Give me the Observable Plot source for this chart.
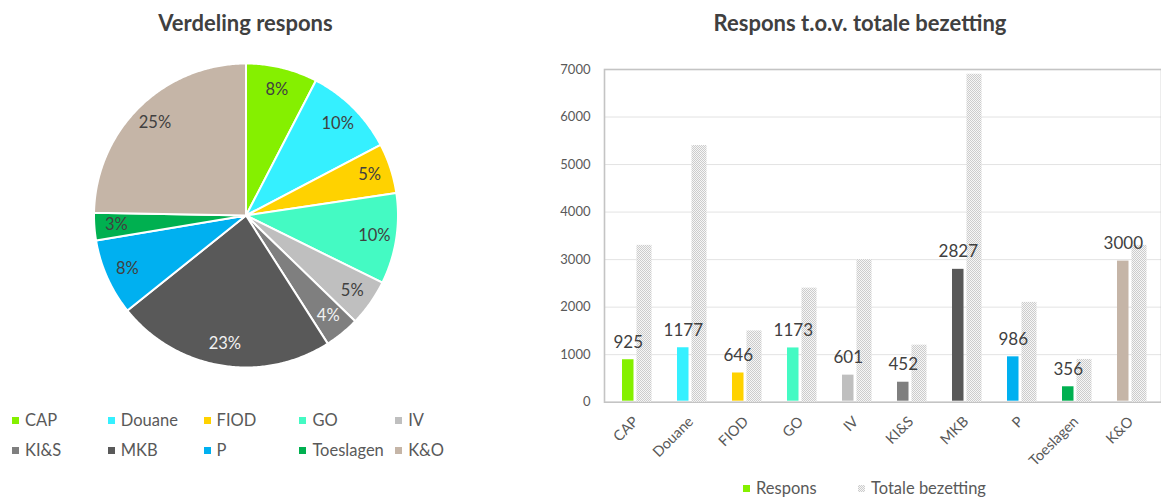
<!DOCTYPE html>
<html>
<head>
<meta charset="utf-8">
<script src="https://cdn.jsdelivr.net/npm/d3@7"></script>
<script src="https://cdn.jsdelivr.net/npm/@observablehq/plot@0.6"></script>
<style>
  body { margin: 0; background: #fff; font-family: Lato, "Noto Sans", sans-serif; }
  #wrap { position: relative; width: 1161px; height: 498px; overflow: hidden; background: #fff; }
  .title { position: absolute; top: 9px; height: 28px; line-height: 28px; font-weight: bold; font-size: 22px; color: #404040; text-align: center; }
  .legend { position: absolute; font-size: 16.5px; color: #595959; line-height: 20px; }
  .legend .item { display: inline-flex; align-items: center; height: 30px; white-space: nowrap; vertical-align: top; }
  .legend .sw { display: inline-block; width: 7px; height: 7px; margin-right: 6px; }
  .pat { background: repeating-conic-gradient(#cccccc 0 25%, #f6f6f6 0 50%) 0 0 / 2px 2px; }
</style>
</head>
<body>
<div id="wrap">
  <div class="title" style="left:0;width:491px">Verdeling respons</div>
  <div class="title" style="left:560px;width:600px">Respons t.o.v. totale bezetting</div>
  <div id="pie" style="position:absolute;left:0;top:40px"></div>
  <div id="bars" style="position:absolute;left:540px;top:40px"></div>
  <div id="pieLegend" class="legend" style="left:12px;top:405px;width:480px"></div>
  <div id="barLegend" class="legend" style="left:743px;top:478px;width:400px;height:20px"></div>
</div>
<script>
// ---- data ----
const categories = ["CAP", "Douane", "FIOD", "GO", "IV", "KI&S", "MKB", "P", "Toeslagen", "K&O"];
const respons = [925, 1177, 646, 1173, 601, 452, 2827, 986, 356, 3000];
const totaleBezetting = [3300, 5400, 1500, 2400, 3000, 1200, 6900, 2100, 900, 3300];
const seriesNames = ["Respons", "Totale bezetting"];
const yTicks = [0, 1000, 2000, 3000, 4000, 5000, 6000, 7000];
const palette = ["#85f000", "#35f0ff", "#ffd200", "#44fac3", "#bfbfbf", "#7f7f7f", "#595959", "#00b0f0", "#00b050", "#c5b5a7"];

// ---- pie chart ----
const total = d3.sum(respons);
let cum = 0;
const slices = categories.map((c, i) => {
  const a0 = cum / total * 2 * Math.PI;
  cum += respons[i];
  const a1 = cum / total * 2 * Math.PI;
  return {cat: c, value: respons[i], a0, a1, mid: (a0 + a1) / 2,
          dark: d3.lab(palette[i]).l < 60};
});
const piePts = slices.flatMap(s => {
  const n = Math.max(2, Math.ceil((s.a1 - s.a0) / 0.01));
  const arr = [{cat: s.cat, x: 0, y: 0}];
  for (let k = 0; k <= n; k++) {
    const a = s.a0 + (s.a1 - s.a0) * k / n;
    arr.push({cat: s.cat, x: Math.sin(a), y: Math.cos(a)});
  }
  arr.push({cat: s.cat, x: 0, y: 0});
  return arr;
});
const pct = d => Math.round(d.value / total * 100) + "%";
const LR = 0.855;

const pie = Plot.plot({
  width: 491, height: 350,
  marginLeft: 93.5, marginRight: 93.5, marginTop: 23, marginBottom: 23,
  x: {domain: [-1, 1], axis: null},
  y: {domain: [-1, 1], axis: null},
  color: {domain: categories, range: palette},
  style: {fontFamily: "Lato, sans-serif", background: "transparent"},
  marks: [
    Plot.line(piePts, {x: "x", y: "y", z: "cat", fill: "cat", stroke: "white", strokeWidth: 2, curve: "linear"}),
    Plot.text(slices.filter(d => !d.dark), {x: d => LR * Math.sin(d.mid), y: d => LR * Math.cos(d.mid), text: pct, fill: "#404040", fontSize: 16.5, lineAnchor: "middle"}),
    Plot.text(slices.filter(d => d.dark), {x: d => LR * Math.sin(d.mid), y: d => LR * Math.cos(d.mid), text: pct, fill: "#f2f2f2", fontSize: 16.5, lineAnchor: "middle"})
  ]
});
document.getElementById("pie").appendChild(pie);

// pie legend
const pl = document.getElementById("pieLegend");
categories.forEach((c, i) => {
  const it = document.createElement("span");
  it.className = "item";
  it.style.width = "95.8px";
  const sw = document.createElement("span");
  sw.className = "sw";
  sw.style.background = palette[i];
  it.appendChild(sw);
  it.appendChild(document.createTextNode(c));
  pl.appendChild(it);
});

// ---- bar chart ----
const rows = categories.map((c, i) => ({cat: c, respons: respons[i], totaal: totaleBezetting[i]}));

const patternMark = () => {
  const ns = "http://www.w3.org/2000/svg";
  const defs = document.createElementNS(ns, "defs");
  const p = document.createElementNS(ns, "pattern");
  p.setAttribute("id", "totPattern");
  p.setAttribute("width", "2"); p.setAttribute("height", "2");
  p.setAttribute("patternUnits", "userSpaceOnUse");
  const bg = document.createElementNS(ns, "rect");
  bg.setAttribute("width", "2"); bg.setAttribute("height", "2"); bg.setAttribute("fill", "#f6f6f6");
  p.appendChild(bg);
  for (const [x, y] of [[0, 0], [1, 1]]) {
    const r = document.createElementNS(ns, "rect");
    r.setAttribute("x", x); r.setAttribute("y", y);
    r.setAttribute("width", "1"); r.setAttribute("height", "1"); r.setAttribute("fill", "#cccccc");
    p.appendChild(r);
  }
  defs.appendChild(p);
  return defs;
};

const bars = Plot.plot({
  width: 621, height: 430,
  marginLeft: 64, marginRight: 0, marginTop: 29, marginBottom: 68.3,
  x: {domain: categories, padding: 0},
  y: {domain: [0, 7000]},
  color: {domain: categories, range: palette},
  style: {fontFamily: "Lato, sans-serif", color: "#595959", background: "transparent", overflow: "visible"},
  marks: [
    patternMark,
    Plot.ruleY(yTicks.filter(v => v > 0 && v < 7000), {stroke: "#e3e3e3", strokeWidth: 1}),
    Plot.frame({stroke: "#c4c4c4", strokeWidth: 1.6}),
    Plot.barY(rows, {x: "cat", y: "totaal", fill: "url(#totPattern)", insetLeft: 28.5, insetRight: 11.5}),
    Plot.barY(rows, {x: "cat", y: "respons", fill: "cat", insetLeft: 14, insetRight: 29.5, insetTop: 1.5, insetBottom: 1}),
    Plot.text(rows, {x: "cat", y: "respons", text: d => String(d.respons), dx: -7.7, dy: -16, lineAnchor: "middle", fontSize: 17, fill: "#404040"}),
    Plot.axisY({ticks: yTicks, tickSize: 0, tickPadding: 14, tickFormat: "d", fontSize: 13, label: null}),
    Plot.axisX({tickRotate: -45, tickSize: 0, tickPadding: 17, fontSize: 14.5, label: null})
  ]
});
document.getElementById("bars").appendChild(bars);

// bar legend
const bl = document.getElementById("barLegend");
seriesNames.forEach((s, i) => {
  const it = document.createElement("span");
  it.className = "item";
  it.style.height = "20px";
  it.style.width = i === 0 ? "115px" : "200px";
  const sw = document.createElement("span");
  sw.className = "sw" + (i === 1 ? " pat" : "");
  if (i === 0) sw.style.background = palette[0];
  it.appendChild(sw);
  it.appendChild(document.createTextNode(s));
  bl.appendChild(it);
});
</script>
</body>
</html>
